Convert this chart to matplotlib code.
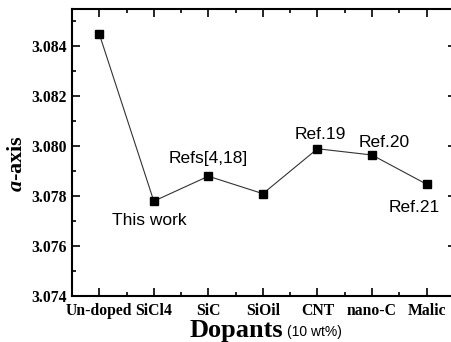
import matplotlib
matplotlib.use("Agg")
import matplotlib.pyplot as plt
from matplotlib.ticker import MultipleLocator

plt.rcParams["mathtext.fontset"] = "custom"
plt.rcParams["mathtext.it"] = "Liberation Serif:italic:bold"
plt.rcParams["mathtext.rm"] = "Liberation Serif:bold"

# data
dopants = ["Un-doped", "SiCl4", "SiC", "SiOil", "CNT", "nano-C", "Malic"]
a_axis = [3.0845, 3.0778, 3.0788, 3.0781, 3.0799, 3.07965, 3.07848]
notes = ["", "This work", "Refs[4,18]", "", "Ref.19", "Ref.20", "Ref.21"]
note_offsets = [(0, 0), (-3, -14), (0, 13), (0, 0), (2, 10), (9, 9), (-9, -17)]

fig = plt.figure(figsize=(4.52, 3.42), dpi=100)
ax = fig.add_axes([72 / 452, 1 - 296 / 342, 384 / 452, 287 / 342])

x = list(range(len(dopants)))
ax.plot(x, a_axis, color="#333333", lw=0.8, marker="s", ms=5.2,
        mfc="black", mec="black")

for xi, yi, txt, (dx, dy) in zip(x, a_axis, notes, note_offsets):
    if txt:
        ax.annotate(txt, (xi, yi), xytext=(dx, dy), textcoords="offset points",
                    ha="center", va="center", fontsize=12.5,
                    family="Liberation Sans")

ax.set_xlim(-0.5, 6.54)
ax.set_ylim(3.074, 3.0855)
ax.set_xticks(x)
ax.set_xticklabels(dopants, family="Liberation Serif", fontweight="bold", fontsize=11.3)
ax.set_yticks([3.074, 3.076, 3.078, 3.080, 3.082, 3.084])
ax.set_yticklabels(["3.074", "3.076", "3.078", "3.080", "3.082", "3.084"],
                   family="Liberation Serif", fontweight="bold", fontsize=11.3)
ax.xaxis.set_minor_locator(MultipleLocator(0.5))
ax.yaxis.set_minor_locator(MultipleLocator(0.001))
ax.tick_params(which="both", direction="in", top=True, right=True, width=1.2)
ax.tick_params(which="major", length=5.5)
ax.tick_params(axis="x", which="major", pad=5)
ax.tick_params(axis="y", which="major", pad=4)
ax.tick_params(which="minor", length=3)
for s in ax.spines.values():
    s.set_linewidth(1.5)

ax.set_ylabel(r"$\mathit{a}$-axis", family="Liberation Serif", fontweight="bold",
              fontsize=16)
ax.yaxis.set_label_coords(-0.118, 0.463)
fig.text(283 / 452, 5 / 342, "Dopants", family="Liberation Serif", fontweight="bold",
         fontsize=19, ha="right", va="baseline")
fig.text(287 / 452, 6 / 342, "(10 wt%)", family="Liberation Sans", fontsize=10,
         ha="left", va="baseline")

fig.savefig("out.png", dpi=100)
